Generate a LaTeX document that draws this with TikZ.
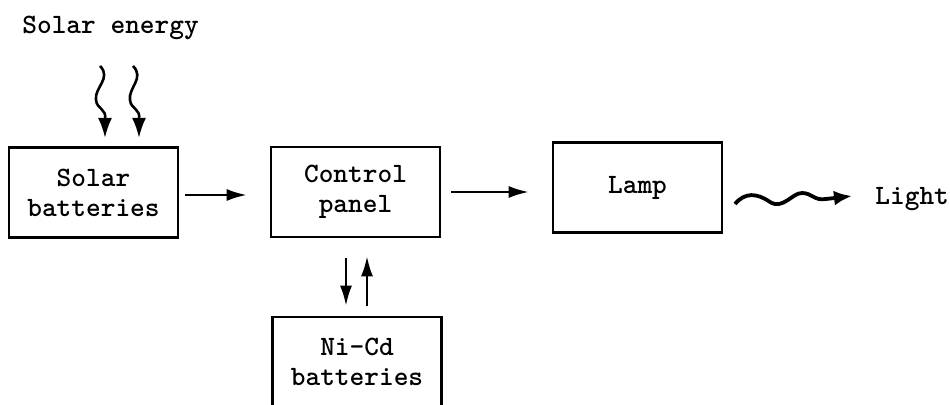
\documentclass[tikz,border=0pt]{standalone}
\usetikzlibrary{arrows.meta}
\begin{document}
\begin{tikzpicture}[x=0.5pt,y=-0.5pt,
  box/.style={draw,line width=1.3pt,minimum width=84.5pt,minimum height=45pt,inner sep=0pt,align=center,font=\ttfamily\bfseries\fontsize{14}{15}\selectfont},
  lbl/.style={inner sep=0pt,font=\ttfamily\bfseries\fontsize{14}{15}\selectfont},
  arr/.style={line width=1.1pt,-{Latex[length=10pt,width=6pt]}},
  wave/.style={line width=1.3pt,-{Latex[length=10pt,width=7pt]}},
  lwave/.style={line width=1.9pt,-{Latex[length=9pt,width=7.5pt]}}]
\useasboundingbox (0,0) rectangle (950,405);
\clip (0,0) rectangle (950,405);
% nodes
\node[lbl,anchor=base west] (se) at (22,34) {Solar energy};
\node[box] (sb) at (93.5,192.5) {Solar\\batteries};
\node[box] (cp) at (355.5,192) {Control\\panel};
\node[box] (lamp) at (637.5,187.5) {Lamp};
\node[box] (nicd) at (357,362) {Ni-Cd\\batteries};
\node[lbl,anchor=base west] (light) at (875,205) {Light};
% solar rays
\coordinate (r1) at (100,66);
\coordinate (r2) at (133,66);
\coordinate (t1) at (105,138);
\coordinate (t2) at (139,138);
\draw[wave] (r1) .. controls (112,78) and (94,88) .. (96,100) .. controls (97,110) and (107,108) .. (105,120) -- (t1);
\draw[wave] (r2) .. controls (145,78) and (128,88) .. (130,100) .. controls (131,110) and (141,108) .. (139,120) -- (t2);
% connectors
\draw[arr,shorten <=3pt,shorten >=11.5pt] ([yshift=-1.25pt]sb.east) -- ([yshift=-1.25pt]sb.east -| cp.west);
\draw[arr,shorten <=5pt,shorten >=11.5pt] (cp.east) -- (cp.east -| lamp.west);
\draw[arr,shorten <=10pt,shorten >=5pt] ([xshift=-4.75pt]cp.south) -- ([xshift=-4.75pt]cp.south |- nicd.north);
\draw[arr,shorten <=5pt,shorten >=9pt] ([xshift=5.75pt]cp.south |- nicd.north) -- ([xshift=5.75pt]cp.south);
% light wave
\coordinate (w0) at (735,204);
\coordinate (w1) at (852,196);
\draw[lwave] (w0) .. controls (745,192) and (757,193) .. (770,202) .. controls (783,210) and (792,193) .. (802,193) .. controls (812,193) and (814,201) .. (826,199) -- (w1);
\end{tikzpicture}
\end{document}
